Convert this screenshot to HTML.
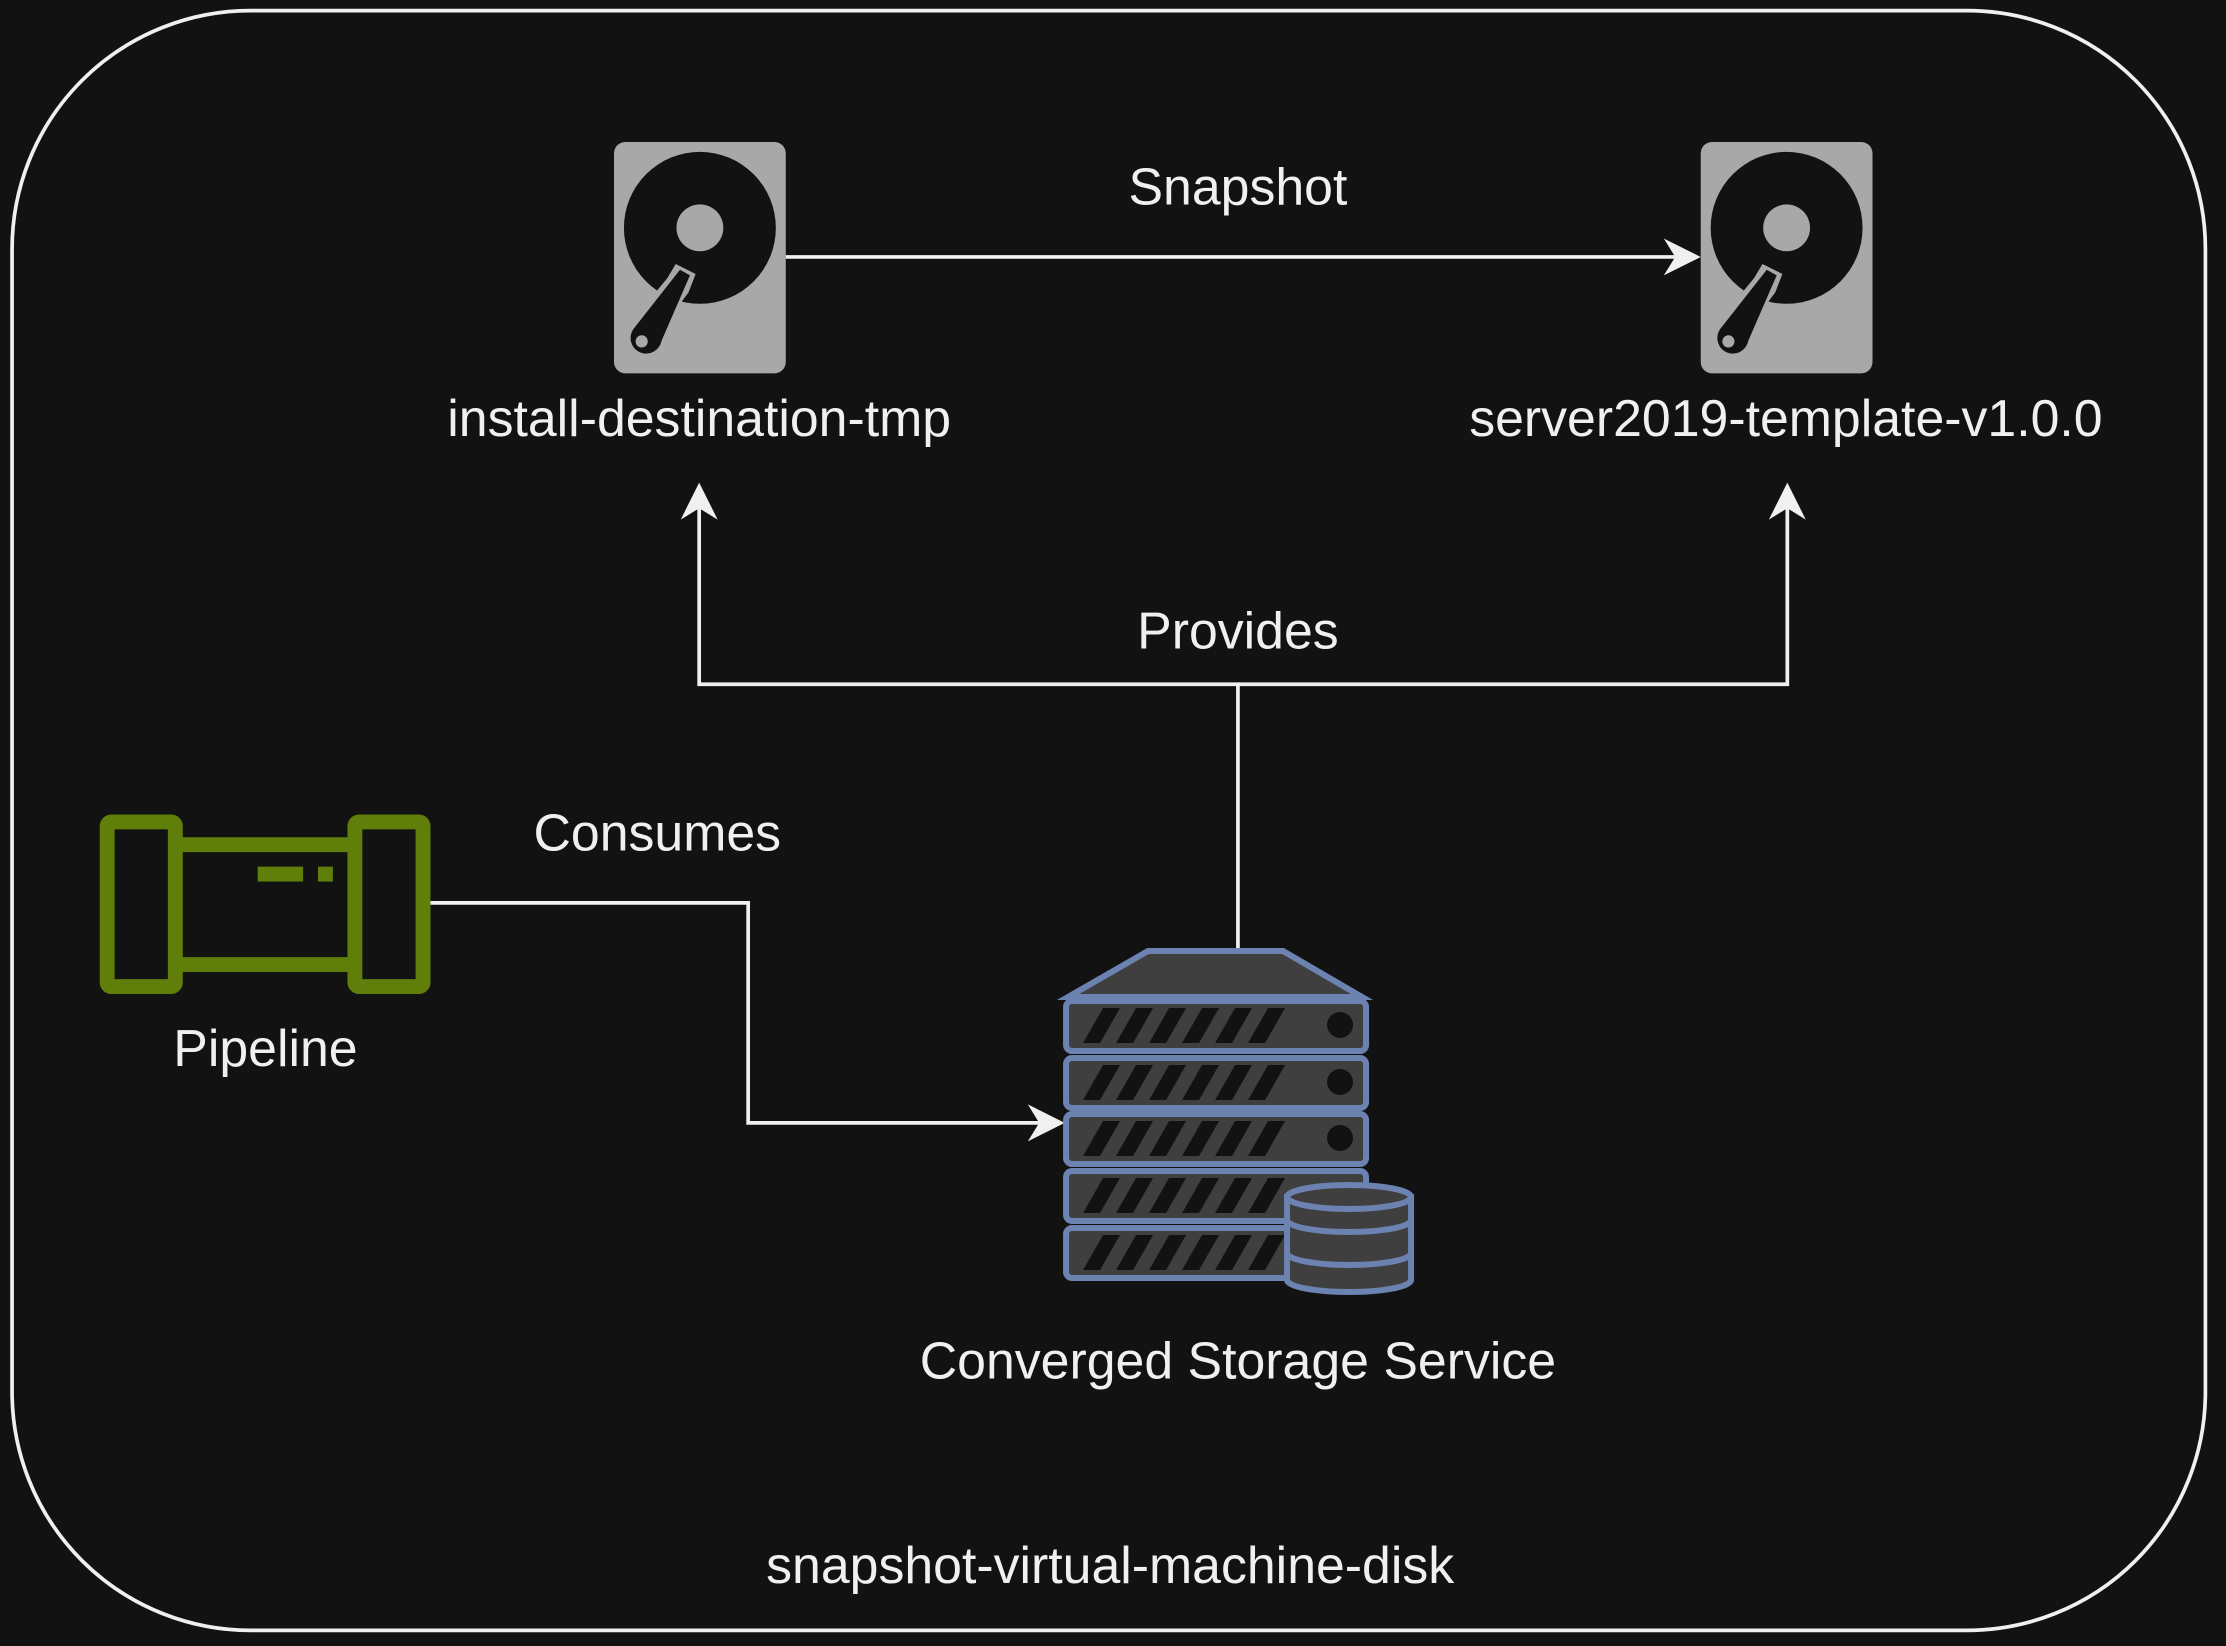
<!DOCTYPE html>
<html><head><meta charset="utf-8">
<style>
html,body{margin:0;padding:0;background:#121212;}
svg{display:block;}
text{font-family:"Liberation Sans",Arial,sans-serif;fill:#f0f0f0;font-size:36.5px;}
</style></head>
<body>
<svg width="2226" height="1646" viewBox="0 0 1568 1159.5" preserveAspectRatio="none" xmlns="http://www.w3.org/2000/svg">
<rect x="0" y="0" width="1568" height="1159.5" fill="#121212"/>
<rect x="8.5" y="7.5" width="1545" height="1141" rx="168" ry="168" fill="#121212" stroke="#f0f0f0" stroke-width="2.6"/>

<!-- disk icons -->
<g id="disk">
<rect x="432.5" y="100" width="121" height="163" rx="8" fill="#a8a8a8"/>
<circle cx="493" cy="160.5" r="53.5" fill="#121212"/>
<circle cx="493" cy="160.5" r="16.5" fill="#a8a8a8"/>
<path d="M476,186 L490,193 L485,206 L462,237 A13,13 0 1 1 442,230 L470,196 Z" fill="#a8a8a8"/>
<path d="M479,190 L486,194 L466,240 A11,11 0 1 1 446,232 Z" fill="#121212"/>
<circle cx="452" cy="240.5" r="4.3" fill="#a8a8a8"/>
</g>
<use href="#disk" transform="translate(765.5,0)"/>

<!-- snapshot arrow -->
<line x1="553.5" y1="181" x2="1182" y2="181" stroke="#f0f0f0" stroke-width="2.6"/>
<path d="M1198,181 L1172,168 L1180,181 L1172,194 Z" fill="#f0f0f0"/>
<text x="872" y="144" text-anchor="middle">Snapshot</text>

<text x="492.5" y="307" text-anchor="middle">install-destination-tmp</text>
<text x="1258" y="307" text-anchor="middle">server2019-template-v1.0.0</text>

<!-- provides -->
<polyline points="872,668 872,482 492.5,482 492.5,358" fill="none" stroke="#f0f0f0" stroke-width="2.6"/>
<polyline points="872,482 1259,482 1259,358" fill="none" stroke="#f0f0f0" stroke-width="2.6"/>
<path d="M492.5,340 L505.5,366 L492.5,358 L479.5,366 Z" fill="#f0f0f0"/>
<path d="M1259,340 L1272,366 L1259,358 L1246,366 Z" fill="#f0f0f0"/>
<text x="872" y="457" text-anchor="middle">Provides</text>

<!-- consumes -->
<polyline points="303,636 527,636 527,791 734,791" fill="none" stroke="#f0f0f0" stroke-width="2.6"/>
<path d="M750,791 L724,778 L732,791 L724,804 Z" fill="#f0f0f0"/>
<text x="463" y="599" text-anchor="middle">Consumes</text>

<!-- pipeline icon -->
<g fill="none" stroke="#5f7f0a" stroke-width="10.5">
<rect x="75.5" y="579" width="48" height="116" rx="3"/>
<rect x="250" y="579" width="48" height="116" rx="3"/>
<line x1="123.5" y1="595" x2="250" y2="595"/>
<line x1="123.5" y1="679.5" x2="250" y2="679.5"/>
</g>
<rect x="181.5" y="610.5" width="32" height="10.5" fill="#5f7f0a"/>
<rect x="224" y="610.5" width="10.5" height="10.5" fill="#5f7f0a"/>
<text x="187" y="751" text-anchor="middle">Pipeline</text>

<!-- server icon (full coords) -->
<g transform="scale(0.70443)" stroke="#6c82b0" stroke-width="6">
<path d="M1148,951 L1283,951 L1362,997 L1068,997 Z" fill="#3f3f3f"/>
<g id="unit">
<rect x="1066" y="1001" width="300" height="50" rx="6" fill="#3f3f3f"/>
<g fill="#121212" stroke="none">
<path d="M1103,1008 L1120,1008 L1100,1043 L1083,1043 Z"/>
<path d="M1136,1008 L1153,1008 L1133,1043 L1116,1043 Z"/>
<path d="M1169,1008 L1186,1008 L1166,1043 L1149,1043 Z"/>
<path d="M1202,1008 L1219,1008 L1199,1043 L1182,1043 Z"/>
<path d="M1235,1008 L1252,1008 L1232,1043 L1215,1043 Z"/>
<path d="M1268,1008 L1285,1008 L1265,1043 L1248,1043 Z"/>
<circle cx="1340" cy="1025" r="13"/>
</g>
</g>
<use href="#unit" transform="translate(0,57)"/>
<use href="#unit" transform="translate(0,113)"/>
<use href="#unit" transform="translate(0,170)"/>
<use href="#unit" transform="translate(0,227)"/>
<!-- cylinder -->
<path d="M1287,1197 L1287,1280 A62,12 0 0 0 1411,1280 L1411,1197 Z" fill="#3f3f3f"/>
<path d="M1287,1220 A62,12 0 0 0 1411,1220" fill="none"/>
<path d="M1287,1253 A62,12 0 0 0 1411,1253" fill="none"/>
<ellipse cx="1349" cy="1197" rx="62" ry="12" fill="#3f3f3f"/>
</g>
<text x="872" y="971" text-anchor="middle">Converged Storage Service</text>

<text x="782" y="1115" text-anchor="middle">snapshot-virtual-machine-disk</text>
</svg>
</body></html>
